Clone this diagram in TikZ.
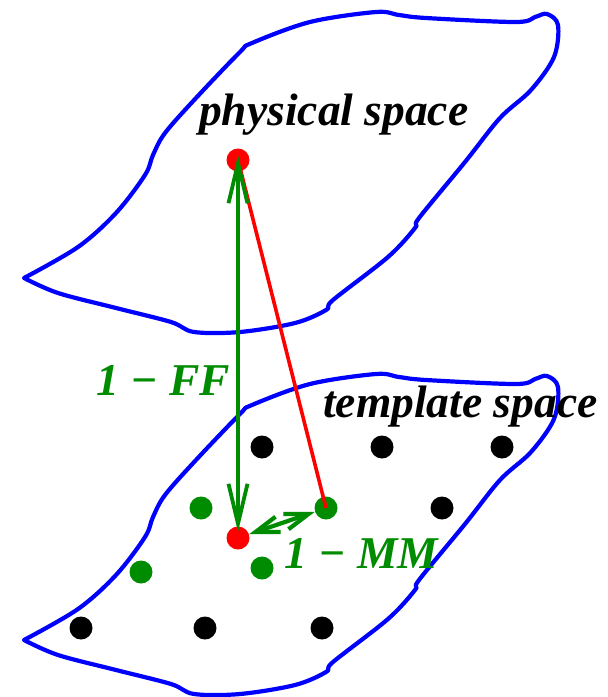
\documentclass[tikz,border=0pt]{standalone}
\usepackage{fontspec}
\setmainfont{Liberation Serif}
\usetikzlibrary{arrows.meta}
\definecolor{fgreen}{RGB}{0,140,0}
\newcommand\myblob{plot[smooth, tension=0.55] coordinates {(24,278) (78,247) (116,213) (145,175) (153,155) (165,133) (196,98) (240,52) (252,43) (310,22) (376,12) (399,15) (426,18) (516,22) (535,17) (547,14) (558,25) (554,57) (531,90) (500,118) (465,162) (419,218) (415,228) (388,257) (333,300) (326,310) (295,323) (240,332) (194,332) (171,322) (116,308) (58,293) (24,278)} -- cycle}
\tikzset{
  blob/.style={draw=blue, line width=4.2pt, line join=round},
  dotnode/.style={circle, inner sep=0pt, minimum size=23pt, fill=#1},
  lbl/.style={anchor=base west, inner sep=0pt, font=\fontsize{45.5}{50}\selectfont\bfseries\itshape},
  vtip/.tip={Straight Barb[length=40pt, width=19pt]},
  htip/.tip={Straight Barb[length=24pt, width=16pt]},
}
\begin{document}
\begin{tikzpicture}[x=1pt, y=-1pt]
\useasboundingbox (0,0) rectangle (608,697);
% blobs
\draw[blob] \myblob;
\begin{scope}[shift={(0,362)}]
\draw[blob] \myblob;
\end{scope}
% dots
\node[dotnode=red] (rt) at (238,160) {};
\node[dotnode=black] (b1) at (262,447) {};
\node[dotnode=black] (b2) at (382,447) {};
\node[dotnode=black] (b3) at (502,447) {};
\node[dotnode=black] (b4) at (442,508) {};
\node[dotnode=black] (b5) at (81,628) {};
\node[dotnode=black] (b6) at (205,628) {};
\node[dotnode=black] (b7) at (322,628) {};
\node[dotnode=fgreen] (g1) at (201,508) {};
\node[dotnode=fgreen] (g2) at (326,508) {};
\node[dotnode=fgreen] (g3) at (141,572) {};
\node[dotnode=fgreen] (g4) at (262,568) {};
\node[dotnode=red] (rb) at (238,538) {};
% connectors
\draw[red, line width=3.6pt] (rt.center) -- (g2.center);
\draw[fgreen, line width=3.8pt, vtip-vtip, shorten <=6pt, shorten >=-5pt] (rb.center) -- (rt.center);
\draw[fgreen, line width=4.2pt, htip-htip] (rb) -- (g2);
% labels
\node[lbl] (phys) at (199,125) {physical space};
\node[lbl] (templ) at (323,417) {template space};
\node[lbl, text=fgreen] (ff) at (96,395) {1 − FF};
\node[lbl, text=fgreen] (mm) at (284,568) {1 − MM};
\end{tikzpicture}
\end{document}
